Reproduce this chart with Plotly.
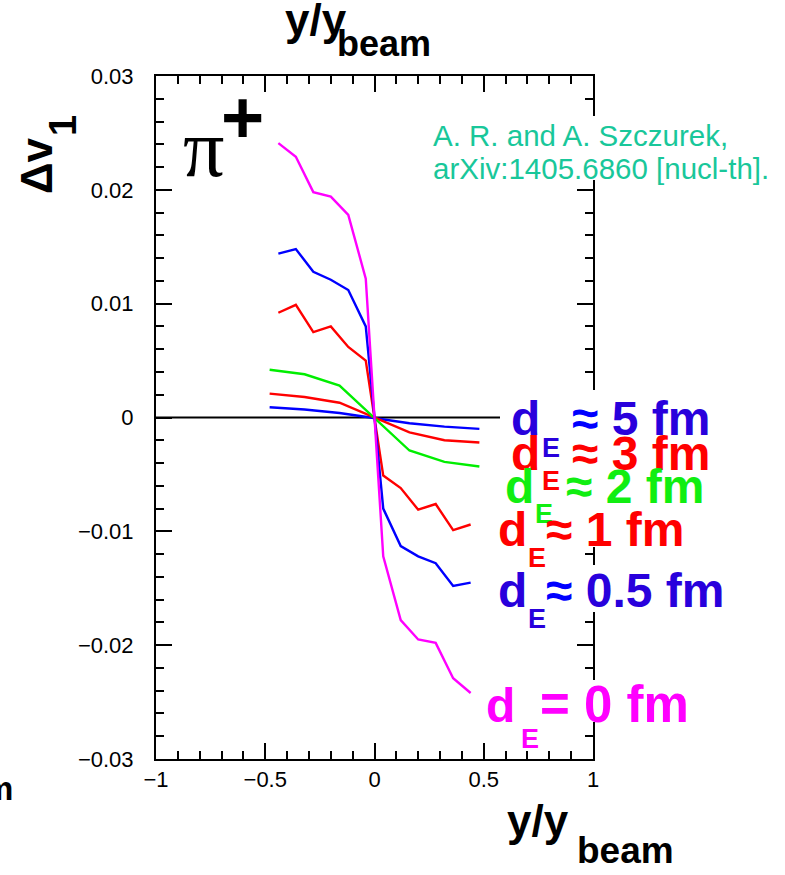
import plotly.graph_objects as go

# ---- data -------------------------------------------------------------
# rapidity grid for the three strongest-field curves
y_fine = [-0.44, -0.36, -0.28, -0.20, -0.12, -0.04, 0.04, 0.12, 0.20, 0.28, 0.36, 0.44]
# rapidity grid for the three weakest-field curves
y_coarse = [-0.48, -0.32, -0.16, 0.16, 0.32, 0.48]

dv1_d0 = [0.0241, 0.0229, 0.0198, 0.0194, 0.0178, 0.0122,
          -0.0122, -0.0178, -0.0195, -0.0198, -0.0229, -0.0242]
dv1_d05 = [0.0144, 0.0148, 0.0128, 0.0121, 0.0112, 0.0080,
           -0.0080, -0.0113, -0.0122, -0.0128, -0.0148, -0.0145]
dv1_d1 = [0.0092, 0.0099, 0.0075, 0.0080, 0.0062, 0.0050,
          -0.0051, -0.0062, -0.0081, -0.0076, -0.0099, -0.0094]
dv1_d2 = [0.0042, 0.0038, 0.0028, -0.0029, -0.0039, -0.0043]
dv1_d3 = [0.0021, 0.0018, 0.0013, -0.0013, -0.0020, -0.0022]
dv1_d5 = [0.0009, 0.0007, 0.0004, -0.0005, -0.0008, -0.0010]

y_ticks = [-0.03, -0.02, -0.01, 0, 0.01, 0.02, 0.03]
x_ticks = [-1, -0.5, 0, 0.5, 1]

# ---- geometry ---------------------------------------------------------
W, H = 785, 875
L, T, R, B = 156, 76, 593, 759
SANS = "Liberation Sans"
SERIF = "Liberation Serif"


def px(x):
    return (x - L) / (R - L)


def py(y):
    return (B - y) / (B - T)


fig = go.Figure()

curves = [
    (y_coarse, dv1_d5, "#0000FF"),
    (y_coarse, dv1_d3, "#FF0000"),
    (y_coarse, dv1_d2, "#00EE00"),
    (y_fine, dv1_d1, "#FF0000"),
    (y_fine, dv1_d05, "#0000FF"),
    (y_fine, dv1_d0, "#FF00FF"),
]
for xs, ys, col in curves:
    fig.add_trace(go.Scatter(x=xs, y=ys, mode="lines",
                             line=dict(color=col, width=2.4),
                             hoverinfo="skip", showlegend=False))

annotations = []


def text(s, x, baseline, size, color="black", bold=False, family=SANS,
         anchor="left", angle=0):
    annotations.append(dict(
        text=f"<b>{s}</b>" if bold else s,
        x=px(x), y=py(baseline - 0.3465 * size),
        xref="paper", yref="paper", xanchor=anchor, yanchor="middle",
        showarrow=False, textangle=angle,
        font=dict(family=family, size=size, color=color)))


# axis titles
text("y/y", 283, 35, 44, bold=True)
text("beam", 335, 56, 36, bold=True)
text("y/y", 505, 836, 44, bold=True)
text("beam", 575, 863, 37, bold=True)

# rotated Δv1
annotations.append(dict(text="<b>Δv</b>", x=px(37), y=py(166), xref="paper",
                        yref="paper", xanchor="center", yanchor="middle",
                        showarrow=False, textangle=-90,
                        font=dict(family=SANS, size=44, color="black")))
annotations.append(dict(text="<b>1</b>", x=px(63), y=py(126), xref="paper",
                        yref="paper", xanchor="center", yanchor="middle",
                        showarrow=False, textangle=-90,
                        font=dict(family=SANS, size=38, color="black")))

# particle label
text("π", 181, 177, 82, family=SERIF)
annotations.append(dict(text="<b>+</b>", x=px(242), y=py(117), xref="paper",
                        yref="paper", xanchor="center", yanchor="middle",
                        showarrow=False,
                        font=dict(family=SANS, size=74, color="black")))

# reference
TEAL = "#19c79a"
text("A. R. and A. Szczurek,", 431, 146, 29.5, color=TEAL)
text("arXiv:1405.6860 [nucl-th].", 431, 179, 29.5, color=TEAL)

# fragment at the lower-left edge
text("fm", 15, 800, 33, bold=True, anchor="right")

# curve labels: (d x, baseline, E x, E baseline, rest x, rest, size, colour, sign colour)
INDIGO = "#2800DC"
labels = [
    (509, 435, 540, 457, 570, "≈ 5 fm", 48, INDIGO, "#0000FF"),
    (509, 470, 540, 490, 570, "≈ 3 fm", 48, "#FF0000", "#FF0000"),
    (503, 503, 533, 523, 564, "≈ 2 fm", 48, "#11EE11", "#11EE11"),
    (496, 546, 526, 567, 544, "≈ 1 fm", 48, "#FF0000", "#FF0000"),
    (496, 607, 526, 628, 544, "≈ 0.5 fm", 48, INDIGO, "#0000FF"),
    (484, 722, 519, 748, 538, "= 0 fm", 51, "#FF00FF", "#FF00FF"),
]
for dx, base, ex, ebase, rx, rest, size, col, scol in labels:
    sign, tail = rest[0], rest[1:]
    text("d", dx, base, 48, color=col, bold=True)
    text(f"<span style='color:{scol}'>{sign}</span>{tail}", rx, base, size,
         color=col, bold=True)
    text("E", ex, ebase, 27, color=col, bold=True)

# white patches behind the labels (they hide the frame there)
patches = [(500, 390, 716, 547), (494, 565, 730, 612), (484, 680, 700, 722),
           (428, 116, 772, 180)]
shapes = [dict(type="rect", xref="paper", yref="paper",
               x0=px(a), x1=px(c), y0=py(d), y1=py(b),
               fillcolor="white", line=dict(width=0), layer="above")
          for a, b, c, d in patches]

axis_common = dict(
    showgrid=False, showline=True, linecolor="black",
    linewidth=2, mirror="allticks", ticks="inside", tickcolor="black",
    tickwidth=2, ticklen=16,
    tickfont=dict(family=SANS, size=22, color="black"),
)

fig.update_layout(
    width=W, height=H,
    margin=dict(l=L, r=W - R, t=T, b=H - B, pad=0),
    paper_bgcolor="white", plot_bgcolor="white",
    xaxis=dict(range=[-1, 1], tickvals=x_ticks, ticklabelstandoff=0,
               zeroline=False,
               minor=dict(dtick=0.1, ticks="inside", ticklen=8,
                          tickwidth=2, tickcolor="black"),
               **axis_common),
    yaxis=dict(range=[-0.03, 0.03], tickvals=y_ticks, ticklabelstandoff=16,
               zeroline=False,
               minor=dict(dtick=0.002, ticks="inside", ticklen=8,
                          tickwidth=2, tickcolor="black"),
               **axis_common),
    shapes=[dict(type="line", xref="paper", yref="y", x0=0, x1=1, y0=0, y1=0,
                 line=dict(color="black", width=2), layer="below")] + shapes,
    annotations=annotations,
    showlegend=False,
)

fig.write_html("out.html")
